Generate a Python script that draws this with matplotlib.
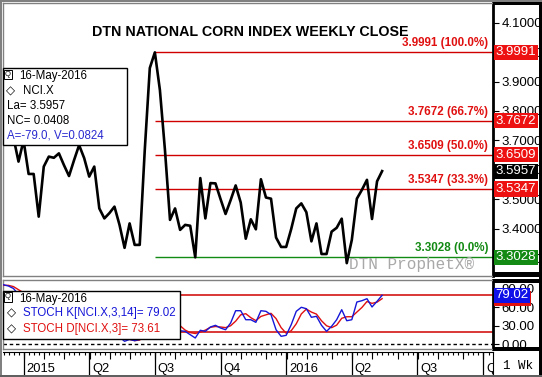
import pandas as pd
import matplotlib
matplotlib.use("Agg")
import matplotlib.pyplot as plt
import matplotlib.dates as mdates
from matplotlib.patches import Rectangle

plt.rcParams['font.family'] = ['Liberation Sans', 'DejaVu Sans']

W, H = 542, 377

# weekly closes of the corn index, 08-Dec-2014 .. 16-May-2016
dates = pd.date_range("2014-12-08", "2016-05-16", freq="W-MON")
close = [3.72, 3.75, 3.71, 3.628, 3.70, 3.586, 3.586, 3.441, 3.611, 3.645,
         3.641, 3.656, 3.616, 3.579, 3.633, 3.684, 3.640, 3.577, 3.611, 3.469,
         3.435, 3.453, 3.475, 3.413, 3.335, 3.418, 3.345, 3.345, 3.667, 3.946,
         3.9991, 3.871, 3.667, 3.430, 3.469, 3.396, 3.413, 3.410, 3.3028, 3.572,
         3.435, 3.555, 3.554, 3.501, 3.450, 3.497, 3.547, 3.489, 3.366, 3.432,
         3.398, 3.568, 3.506, 3.502, 3.370, 3.338, 3.338, 3.399, 3.469, 3.486,
         3.456, 3.357, 3.418, 3.314, 3.314, 3.390, 3.403, 3.434, 3.283, 3.362,
         3.502, 3.532, 3.566, 3.433, 3.561, 3.5957]
stoch_k = [96, 94, 90, 80, 78, 70, 62, 45, 48, 55,
           60, 66, 62, 55, 58, 66, 62, 52, 48, 30,
           18, 14, 16, 12, 5, 8, 6, 8, 30, 60,
           82, 84, 70, 42, 25, 22, 21, 15.6, 10.3, 22.7,
           21, 28, 30.7, 26.4, 23.6, 34.4, 54.2, 54.2, 39.7, 39.7,
           35.5, 54.2, 53.2, 47.8, 23.6, 13, 14.6, 31.7, 53.2, 59.7,
           57.4, 43.6, 45.2, 30.7, 21, 29.1, 39.7, 55.8, 38.1, 39.7,
           68.2, 70.3, 73.5, 60.2, 69.3, 79.02]
stoch_d = [95, 95, 93, 88, 83, 76, 70, 59, 52, 49,
           54, 60, 63, 61, 58, 60, 62, 60, 54, 43,
           32, 21, 16, 14, 11, 8, 6, 7, 15, 33,
           57, 75, 79, 65, 46, 30, 23, 19, 17.5, 20,
           23, 27.5, 28.8, 28, 27, 30, 37.4, 47.6, 49.4, 43,
           38.3, 45, 47.6, 50, 41.5, 27, 18, 22, 33.2, 49,
           56.8, 52, 48.7, 38, 30, 26.9, 31, 42, 44.5, 44.5,
           52, 59.4, 69, 66, 68, 73.61]

fib_levels = [3.9991, 3.7672, 3.6509, 3.5347, 3.3028]
fib_pcts = ["100.0%", "66.7%", "50.0%", "33.3%", "0.0%"]
price_ticks = [3.3, 3.4, 3.5, 3.6, 3.7, 3.8, 3.9, 4.0, 4.1]
stoch_ticks = [0, 30, 60, 90]
period_labels = ["2015", "Q2", "Q3", "Q4", "2016", "Q2", "Q3", "Q4"]
period_starts = ["2015-01-05", "2015-04-06", "2015-07-06", "2015-10-05",
                 "2016-01-04", "2016-04-04", "2016-07-04", "2016-10-03"]

RED = "#e01010"
LINE_RED = "#d00000"
GREEN = "#138a13"
BLUE = "#1616d8"


def rect(x0, y0, x1, y1):
    # pixel box (top-left origin) -> figure fraction
    return [x0 / W, 1 - y1 / H, (x1 - x0) / W, (y1 - y0) / H]


def ftext(x, y, s, **kw):
    kw.setdefault("fontsize", 8.3)
    kw.setdefault("va", "center")
    fig.text(x / W, 1 - y / H, s, **kw)


def fbox(x0, y0, x1, y1, **kw):
    fig.add_artist(Rectangle((x0 / W, 1 - y1 / H), (x1 - x0) / W, (y1 - y0) / H,
                             transform=fig.transFigure, **kw))


fig = plt.figure(figsize=(W / 100, H / 100), dpi=100)

ax = fig.add_axes(rect(3, 3, 493, 276))
ax2 = fig.add_axes(rect(3, 280, 493, 349), sharex=ax)
ax3 = fig.add_axes(rect(3, 352, 493, 375), sharex=ax)

x0 = mdates.date2num(dates[0]) - 0.5
ax.set_xlim(x0, x0 + 490 / 5.05 * 7)

# ---- price panel
ax.plot(dates, close, color="black", lw=1.9, zorder=3)
peak = dates[close.index(max(close))]
xmax = mdates.num2date(ax.get_xlim()[1])
for lev, pct in zip(fib_levels, fib_pcts):
    c = GREEN if pct == "0.0%" else RED
    ax.hlines(lev, peak, xmax, color=GREEN if pct == "0.0%" else LINE_RED, lw=1, zorder=2)
    ax.annotate(f"{lev:.4f} ({pct})", xy=(0.99, lev), xycoords=("axes fraction", "data"),
                xytext=(0, 2.2), textcoords="offset points", ha="right", va="bottom",
                color=c, fontsize=8.4, fontweight="bold")

ax.set_ylim(3.2393, 4.1669)
ax.yaxis.tick_right()
ax.set_yticks(price_ticks)
ax.set_yticklabels([f"{v:.4f}" for v in price_ticks])
ax.tick_params(axis="y", direction="out", length=4, pad=2, labelsize=9.5)
ax.tick_params(axis="x", which="both", bottom=False, labelbottom=False)

ax.text(0.505, 1 - (31.7 - 3) / 273, "DTN NATIONAL CORN INDEX WEEKLY CLOSE",
        transform=ax.transAxes, ha="center", va="center", fontsize=10.3, fontweight="bold")
ax.text(0.707, 1 - (265 - 3) / 273, "DTN ProphetX\u00ae", transform=ax.transAxes,
        ha="left", va="center", fontsize=11.5, color="#a8a8a8", family="Liberation Mono")


def value_box(axis, y, text, color):
    axis.annotate(text, xy=(1, y), xycoords=("axes fraction", "data"), xytext=(2.0, 0),
                  textcoords="offset points", ha="left", va="center", color="white",
                  fontsize=9.5, annotation_clip=False, zorder=6,
                  bbox=dict(boxstyle="square,pad=0.12", fc=color, ec="none"))


for lev, pct in zip(fib_levels, fib_pcts):
    value_box(ax, lev, f"{lev:.4f}", GREEN if pct == "0.0%" else "#ee1111")
value_box(ax, close[-1], f"{close[-1]:.4f}", "black")

# ---- stochastic panel
ax2.axhline(80, color=LINE_RED, lw=1.1)
ax2.axhline(20, color=LINE_RED, lw=1.1)
ax2.axhline(0, color="black", lw=1, ls=(0, (2.5, 2)))
ax2.plot(dates, stoch_d, color=RED, lw=1, zorder=3)
ax2.plot(dates, stoch_k, color=BLUE, lw=1, zorder=4)
ax2.set_ylim(-7.4, 103.6)
ax2.yaxis.tick_right()
ax2.set_yticks(stoch_ticks)
ax2.set_yticklabels([f"{v:.2f}" for v in stoch_ticks])
ax2.tick_params(axis="y", direction="out", length=4, pad=2, labelsize=9.5)
ax2.tick_params(axis="x", which="both", bottom=False, labelbottom=False)
value_box(ax2, stoch_d[-1], f"{stoch_d[-1]:.2f}", "#e01010")
value_box(ax2, stoch_k[-1], f"{stoch_k[-1]:.2f}", "#1010e8")

for a in (ax, ax2):
    for s in ("left", "top", "bottom"):
        a.spines[s].set_color("#808080")
        a.spines[s].set_linewidth(1)
    a.spines["right"].set_color("black")
    a.spines["right"].set_linewidth(2)

# ---- date strip
ax3.set_ylim(0, 1)
ax3.set_yticks([])
ax3.tick_params(axis="x", which="both", bottom=False, labelbottom=False)
for s in ("left", "bottom"):
    ax3.spines[s].set_visible(False)
ax3.spines["top"].set_color("black")
ax3.spines["right"].set_color("black")
lo, hi = [mdates.num2date(v) for v in ax3.get_xlim()]
lo, hi = pd.Timestamp(lo).tz_localize(None), pd.Timestamp(hi).tz_localize(None)
weeks = pd.date_range(lo, hi, freq="W-MON")
months = [w for w in weeks if w.day <= 7]
ax3.vlines(weeks, 0.86, 1, color="black", lw=0.8)
ax3.vlines(months, 0.70, 1, color="black", lw=0.8)
ps = pd.to_datetime(period_starts)
ax3.vlines(ps, 0, 1, color="black", lw=0.9)
for d, lab in zip(ps, period_labels):
    ax3.annotate(lab, xy=(d, 0.28), xytext=(2, 0), textcoords="offset points",
                 ha="left", va="center", fontsize=9.3, annotation_clip=True, clip_on=True)

# ---- legends
fbox(3, 68, 127, 145, fc="white", ec="black", lw=1, zorder=5)
ftext(5, 74.5, "Q", fontsize=5.5, zorder=6,
      bbox=dict(boxstyle="square,pad=0.15", fc="white", ec="black", lw=0.7))
ftext(19, 76, "16-May-2016", zorder=6)
ftext(6, 91, "\u25c7", fontsize=8.5, fontweight="bold", zorder=6,
      family=["DejaVu Sans"])
ftext(22.7, 91, "NCI.X", zorder=6)
ftext(7.3, 106, "La= 3.5957", zorder=6)
ftext(7.3, 121, "NC= 0.0408", zorder=6)
ftext(7.3, 136, "A=-79.0, V=0.0824", color="#2a2ad0", zorder=6)

fbox(3, 291, 180, 338.5, fc="white", ec="black", lw=1, zorder=5)
ftext(5, 297, "Q", fontsize=5.5, zorder=6,
      bbox=dict(boxstyle="square,pad=0.15", fc="white", ec="black", lw=0.7))
ftext(19, 298.7, "16-May-2016", zorder=6)
ftext(6.5, 313, "\u25c7", fontsize=8.5, fontweight="bold", zorder=6, family=["DejaVu Sans"])
ftext(22.7, 313, "STOCH K[NCI.X,3,14]= 79.02", color=BLUE, zorder=6)
ftext(6.5, 328.7, "\u25c7", fontsize=8.5, fontweight="bold", zorder=6, family=["DejaVu Sans"])
ftext(22.7, 328.7, "STOCH D[NCI.X,3]= 73.61", color=RED, zorder=6)

# ---- frame pieces on the right scale area
fbox(493, 0, 541, 4.5, fc="black", ec="none", zorder=4)
fbox(493, 272, 541, 276.5, fc="black", ec="none", zorder=4)
fbox(493, 278.5, 541, 283, fc="black", ec="none", zorder=4)
fbox(493, 347, 541, 351, fc="black", ec="none", zorder=4)
fbox(539, 0, 542, 377, fc="black", ec="none", zorder=4)
fbox(0, 0, 2, 377, fc="#808080", ec="none", zorder=4)
fbox(0, 0, 542, 2, fc="#808080", ec="none", zorder=4)
fbox(0, 375, 542, 377, fc="#606060", ec="none", zorder=4)
ftext(518, 366, "1 Wk", fontsize=9, ha="center", family="Liberation Mono", zorder=6)

fig.savefig("out.png", dpi=100)
